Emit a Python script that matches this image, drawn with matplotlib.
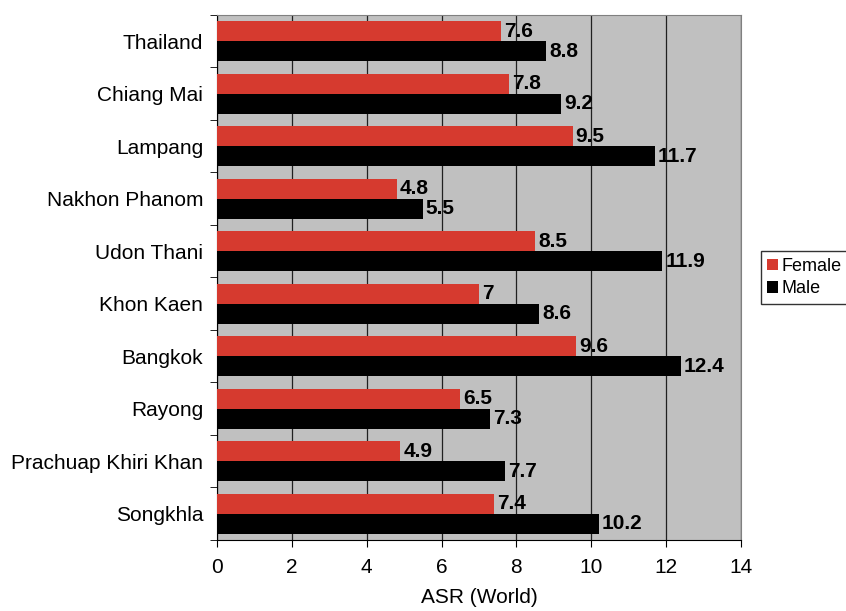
import numpy as np
import matplotlib.pyplot as plt

plt.rcParams['font.family'] = ['Liberation Sans', 'DejaVu Sans']

regions = ["Thailand", "Chiang Mai", "Lampang", "Nakhon Phanom", "Udon Thani",
           "Khon Kaen", "Bangkok", "Rayong", "Prachuap Khiri Khan", "Songkhla"]
female = [7.6, 7.8, 9.5, 4.8, 8.5, 7, 9.6, 6.5, 4.9, 7.4]
male = [8.8, 9.2, 11.7, 5.5, 11.9, 8.6, 12.4, 7.3, 7.7, 10.2]

red = "#d63a2f"
h = 0.38
y = np.arange(len(regions))

fig = plt.figure(figsize=(8.46, 6.11), dpi=100)
ax = fig.add_axes([0.2565, 0.1162, 0.6194, 0.8593])
ax.set_facecolor("#c0c0c0")

ax.barh(y - h / 2, female, height=h, color=red, label="Female", zorder=3)
ax.barh(y + h / 2, male, height=h, color="black", label="Male", zorder=3)

for yi, f, m in zip(y, female, male):
    ax.text(f + 0.08, yi - h / 2, f"{f:g}", va="center", ha="left",
            fontsize=15, fontweight="bold", zorder=4)
    ax.text(m + 0.08, yi + h / 2, f"{m:g}", va="center", ha="left",
            fontsize=15, fontweight="bold", zorder=4)

ax.set_xlim(0, 14)
ax.set_ylim(len(regions) - 0.5, -0.5)
ax.set_xticks(range(0, 15, 2))
ax.set_yticks(y)
ax.set_yticklabels(regions)
ax.set_yticks(np.arange(-0.5, len(regions), 1), minor=True)
ax.tick_params(axis="y", which="major", length=0, pad=10, labelsize=15)
ax.tick_params(axis="y", which="minor", length=5, direction="out")
ax.tick_params(axis="x", length=5, pad=8, labelsize=15)
ax.xaxis.grid(True, color="#202020", linewidth=0.9, zorder=1)
ax.set_axisbelow(True)

for side in ["top", "right"]:
    ax.spines[side].set_color("#808080")
ax.spines["left"].set_color("black")
ax.spines["bottom"].set_color("black")

ax.set_xlabel("ASR (World)", fontsize=15, labelpad=8)

ax.legend(loc="center left", bbox_to_anchor=(1.038, 0.5), fontsize=13,
          frameon=True, fancybox=False, edgecolor="black", handlelength=0.6,
          handleheight=0.6, handletextpad=0.2, borderpad=0.35, labelspacing=0.3,
          borderaxespad=0)

fig.savefig("out.png", dpi=100)
